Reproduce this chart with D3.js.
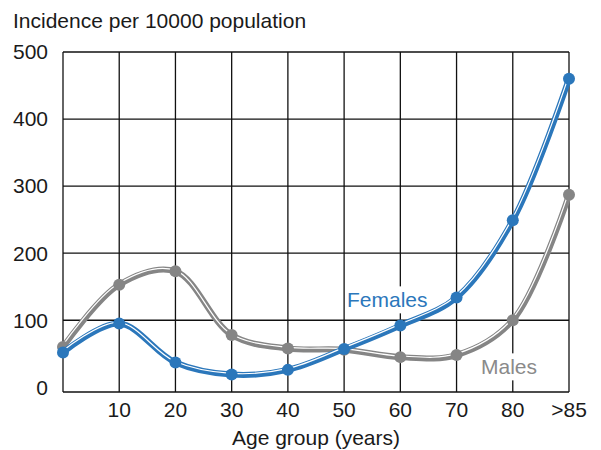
<!DOCTYPE html>
<html><head><meta charset="utf-8">
<script src="https://cdn.jsdelivr.net/npm/d3@7"></script>
<style>body{margin:0;background:#fff}svg{display:block}text{font-family:"Liberation Sans",Arial,Helvetica,sans-serif}</style>
</head><body>
<svg id="c" width="601" height="450"></svg>
<script>
const ageGroups = ["0","10","20","30","40","50","60","70","80",">85"];
const tickLabels = ["","10","20","30","40","50","60","70","80",">85"];
const females = [52,95,37,19,26,57,92,134,249,460];
const males = [60,153,173,78,58,56,45,48,100,287];
const yTicks = [0,100,200,300,400,500];

const svg = d3.select("#c");
const x = d3.scalePoint().domain(ageGroups).range([63,569]);
const y = d3.scaleLinear().domain([-7,500]).range([392,52]);

const g = svg.append("g");
g.selectAll("line.v").data(ageGroups).join("line")
  .attr("x1",d=>x(d)).attr("x2",d=>x(d)).attr("y1",y(500)).attr("y2",y(-7))
  .attr("stroke","#111").attr("stroke-width",1.3);
g.selectAll("line.h").data(yTicks.filter(d=>d>0)).join("line")
  .attr("y1",d=>y(d)).attr("y2",d=>y(d)).attr("x1",x("0")).attr("x2",x(">85"))
  .attr("stroke","#111").attr("stroke-width",1.3);
g.append("line").attr("x1",x("0")).attr("x2",x(">85")).attr("y1",y(-7)).attr("y2",y(-7))
  .attr("stroke","#111").attr("stroke-width",1.3);

svg.selectAll("text.yt").data(yTicks).join("text")
  .attr("x",48).attr("y",d=>y(d)).attr("dy","0.35em").attr("text-anchor","end")
  .attr("font-size",21).attr("fill","#1a1a1a").text(d=>d);
svg.selectAll("text.xt").data(ageGroups).join("text")
  .attr("x",d=>x(d)).attr("y",410).attr("dy","0.35em").attr("text-anchor","middle")
  .attr("font-size",21).attr("fill","#1a1a1a").text((d,i)=>tickLabels[i]);

svg.append("text").attr("x",13).attr("y",21).attr("dy","0.35em").attr("font-size",21).attr("fill","#1a1a1a")
  .text("Incidence per 10000 population");
svg.append("text").attr("x",316).attr("y",438).attr("dy","0.35em").attr("text-anchor","middle").attr("font-size",21).attr("fill","#1a1a1a")
  .text("Age group (years)");

// label backgrounds
function labelBox(t){
  const b = t.node().getBBox();
  svg.insert("rect", "g.series").attr("x",b.x-2).attr("y",b.y-2).attr("width",b.width+4).attr("height",b.height+4).attr("fill","#fff");
}

const line = d3.line().x((d,i)=>x(ageGroups[i])).y(d=>y(d)).curve(d3.curveCatmullRom.alpha(0.5));

function series(vals,color){
  const s = svg.append("g").attr("class","series");
  s.append("path").datum(vals).attr("d",line).attr("fill","none").attr("stroke",color).attr("stroke-width",6).attr("stroke-linejoin","round");
  s.append("path").datum(vals).attr("d",line).attr("fill","none").attr("stroke","#fff").attr("stroke-width",1.2)
    .attr("transform","translate(-0.8,-1.2)");
  s.selectAll("circle").data(vals).join("circle")
    .attr("cx",(d,i)=>x(ageGroups[i])).attr("cy",d=>y(d)).attr("r",6).attr("fill",color);
}
series(males,"#858585");
series(females,"#2b77bb");

const tf = svg.append("text").attr("x",347).attr("y",300).attr("dy","0.35em").attr("font-size",21).attr("fill","#2b77bb").text("Females");
const tm = svg.append("text").attr("x",481).attr("y",367).attr("dy","0.35em").attr("font-size",21).attr("fill","#8a8a8a").text("Males");
labelBox(tf); labelBox(tm);
</script>
</body></html>
